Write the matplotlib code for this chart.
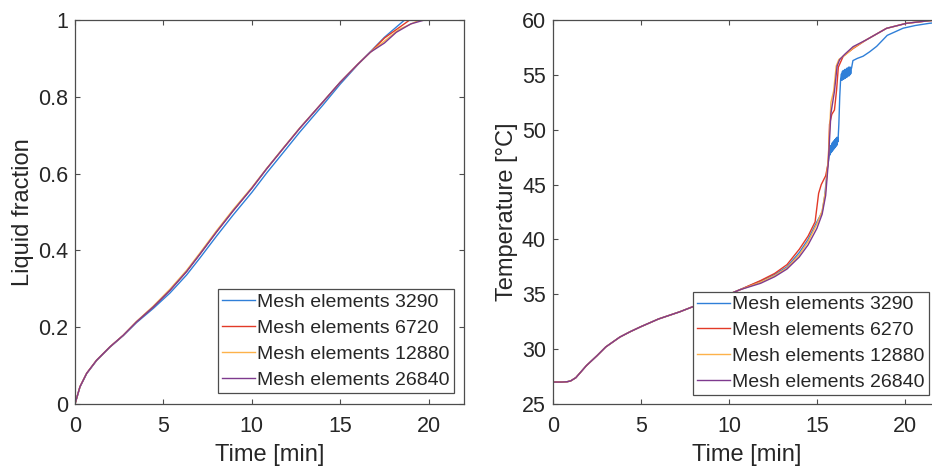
import numpy as np
import matplotlib
matplotlib.use("Agg")
import matplotlib.pyplot as plt

plt.rcParams.update({
    "font.family": ["Liberation Sans", "DejaVu Sans"],
    "axes.edgecolor": "#4d4d4d",
    "axes.linewidth": 0.9,
    "xtick.color": "#4d4d4d",
    "ytick.color": "#4d4d4d",
    "xtick.labelcolor": "#262626",
    "ytick.labelcolor": "#262626",
    "xtick.direction": "in",
    "ytick.direction": "in",
    "xtick.top": True,
    "ytick.right": True,
    "xtick.major.size": 3.5,
    "ytick.major.size": 3.5,
})

COLORS = ["#2f7fd8", "#e23a28", "#fdb24a", "#7e3a8e"]

# ---------------------------------------------------------------------------
# Liquid fraction data
# ---------------------------------------------------------------------------
t_lf_common = [0, 0.28, 0.66, 1.22, 1.98, 2.73, 3.48, 4.43, 5.37, 6.31, 7.06,
               8.0, 8.94, 10.0, 10.83, 11.8, 12.71, 14.03, 15.0, 16.0, 16.7]
lf_common = [0, 0.045, 0.08, 0.114, 0.149, 0.179, 0.214, 0.253, 0.296, 0.345,
             0.390, 0.448, 0.503, 0.562, 0.612, 0.667, 0.718, 0.787, 0.838,
             0.885, 0.916]

t_lf_3290 = t_lf_common + [17.5, 18.64, 22]
lf_3290 = [0, 0.044, 0.079, 0.113, 0.148, 0.178, 0.212, 0.249, 0.289, 0.336,
           0.380, 0.437, 0.492, 0.551, 0.601, 0.656, 0.708, 0.779, 0.833,
           0.884, 0.917, 0.955, 1.0, 1.0]

t_lf_6720 = t_lf_common + [17.5, 18.93, 22]
lf_6720 = lf_common + [0.953, 1.0, 1.0]

t_lf_12880 = t_lf_common + [17.5, 18.3, 19.5, 22]
lf_12880 = [0, 0.045, 0.08, 0.114, 0.149, 0.179, 0.215, 0.255, 0.299, 0.348,
            0.393, 0.451, 0.506, 0.564, 0.613, 0.668, 0.719, 0.787, 0.838,
            0.885, 0.916, 0.945, 0.975, 1.0, 1.0]

t_lf_26840 = t_lf_common + [17.5, 18.17, 19.0, 19.77, 22]
lf_26840 = lf_common + [0.94, 0.968, 0.99, 1.0, 1.0]

# ---------------------------------------------------------------------------
# Temperature data
# ---------------------------------------------------------------------------
t_T_common = [0, 0.5, 0.8, 1.0, 1.3, 1.9, 2.5, 3.0, 3.8, 4.4, 5.0, 6.0, 7.2,
              8.0, 9.0, 10.0, 10.6]
T_common = [27.0, 27.0, 27.03, 27.1, 27.4, 28.5, 29.4, 30.2, 31.1, 31.6, 32.05,
            32.75, 33.4, 33.9, 34.45, 35.0, 35.4]

# coarse mesh: noisy plateaus near 48.5 and 55 degC
t_T_3290 = t_T_common + [
    11.8, 12.6, 13.3, 14.0, 14.5, 15.0, 15.3, 15.45, 15.6, 15.7,
    15.725, 15.75, 15.775, 15.8, 15.825, 15.85, 15.875, 15.9, 15.925, 15.95,
    15.975, 16.0, 16.025, 16.05, 16.075, 16.1, 16.125, 16.15, 16.175, 16.2,
    16.25, 16.3, 16.35, 16.4,
    16.425, 16.45, 16.475, 16.5, 16.525, 16.55, 16.575, 16.6, 16.625, 16.65,
    16.675, 16.7, 16.725, 16.75, 16.775, 16.8, 16.825, 16.85, 16.875, 16.9,
    16.925, 16.95, 16.97, 17.05, 17.3, 17.63, 18.0, 18.4, 19.0, 19.9, 20.6,
    21.4, 22.0]
T_3290 = T_common + [
    36.2, 36.8, 37.5, 38.8, 40.0, 41.6, 42.5, 44.0, 46.5, 47.6,
    48.3, 47.7, 48.5, 47.9, 48.6, 48.0, 48.8, 48.1, 48.9, 48.2,
    49.0, 48.3, 49.1, 48.4, 49.2, 48.5, 49.3, 48.6, 49.3, 48.9,
    50.5, 53.0, 54.6, 55.1,
    54.5, 55.3, 54.6, 55.4, 54.6, 55.4, 54.7, 55.5, 54.7, 55.5,
    54.8, 55.6, 54.8, 55.6, 54.9, 55.7, 54.9, 55.7, 55.0, 55.7,
    55.1, 55.6, 55.6, 56.3, 56.5, 56.7, 57.1, 57.6, 58.6, 59.25, 59.5,
    59.7, 59.8]

t_T_6270 = t_T_common + [11.8, 12.6, 13.3, 14.0, 14.5, 14.9, 15.1, 15.25, 15.5,
                         15.65, 15.72, 15.85, 16.0, 16.12, 16.22, 16.5, 17.06,
                         17.82, 18.96, 20.1, 21.4, 22.0]
T_6270 = T_common + [36.25, 36.9, 37.7, 39.1, 40.3, 41.6, 44.2, 45.0, 45.8,
                     47.0, 50.5, 51.4, 51.8, 53.6, 55.7, 56.7, 57.4,
                     58.2, 59.24, 59.7, 59.94, 60.0]

t_T_12880 = t_T_common + [11.8, 12.6, 13.3, 14.0, 14.5, 15.0, 15.3, 15.5, 15.65,
                          15.8, 15.95, 16.1, 16.25, 16.6, 17.1, 17.82, 18.96,
                          20.1, 21.4, 22.0]
T_12880 = T_common + [36.1, 36.7, 37.4, 38.6, 39.8, 41.4, 42.6, 44.5, 47.5,
                      52.5, 53.5, 55.8, 56.4, 56.8, 57.5, 58.2, 59.24,
                      59.7, 59.94, 60.0]

t_T_26840 = t_T_common + [11.8, 12.6, 13.3, 14.0, 14.5, 15.0, 15.3, 15.5, 15.65,
                          15.8, 16.0, 16.15, 16.3, 16.6, 17.06, 17.82, 18.96,
                          20.1, 21.4, 22.0]
T_26840 = T_common + [36.0, 36.6, 37.3, 38.4, 39.5, 41.0, 42.3, 44.0, 47.0,
                      51.5, 53.5, 55.8, 56.4, 56.9, 57.57, 58.2, 59.24,
                      59.7, 59.94, 60.0]

labels_lf = ["Mesh elements 3290", "Mesh elements 6720",
             "Mesh elements 12880", "Mesh elements 26840"]
labels_T = ["Mesh elements 3290", "Mesh elements 6270",
            "Mesh elements 12880", "Mesh elements 26840"]

fig = plt.figure(figsize=(9.32, 4.66), dpi=100)
ax1 = fig.add_axes([75 / 932, 62 / 466, 389 / 932, 384 / 466])
ax2 = fig.add_axes([553 / 932, 62 / 466, 387 / 932, 384 / 466])

lf_series = [(t_lf_3290, lf_3290), (t_lf_6720, lf_6720),
             (t_lf_12880, lf_12880), (t_lf_26840, lf_26840)]
T_series = [(t_T_3290, T_3290), (t_T_6270, T_6270),
            (t_T_12880, T_12880), (t_T_26840, T_26840)]

for (x, y), c, lab in zip(lf_series, COLORS, labels_lf):
    ax1.plot(x, y, color=c, lw=1.0, label=lab)
for (x, y), c, lab in zip(T_series, COLORS, labels_T):
    ax2.plot(x, y, color=c, lw=1.0, label=lab)

ax1.set_xlim(0, 22)
ax1.set_ylim(0, 1)
ax1.set_xticks([0, 5, 10, 15, 20])
ax1.set_yticks([0, 0.2, 0.4, 0.6, 0.8, 1])
ax1.set_yticklabels(["0", "0.2", "0.4", "0.6", "0.8", "1"])
ax1.set_ylabel("Liquid fraction", fontsize=17, color="#262626", labelpad=3)
ax1.set_xlabel("Time [min]", fontsize=17, color="#262626", labelpad=5)

ax2.set_xlim(0, 22)
ax2.set_ylim(25, 60)
ax2.set_xticks([0, 5, 10, 15, 20])
ax2.set_yticks([25, 30, 35, 40, 45, 50, 55, 60])
ax2.set_ylabel("Temperature [°C]", fontsize=17, color="#262626", labelpad=3)
ax2.set_xlabel("Time [min]", fontsize=17, color="#262626", labelpad=5)

for ax, anchor in [(ax1, (0.974, 0.029)), (ax2, (0.9716, 0.0234))]:
    ax.tick_params(axis="x", labelsize=15.5, pad=9)
    ax.tick_params(axis="y", labelsize=15.5, pad=5)
    leg = ax.legend(loc="lower right", bbox_to_anchor=anchor, borderaxespad=0,
                    fontsize=14, fancybox=False, framealpha=1,
                    edgecolor="#4d4d4d", handlelength=1.7, handletextpad=0.1,
                    labelspacing=0.42, borderpad=0.22)
    leg.get_frame().set_linewidth(0.9)
    for txt in leg.get_texts():
        txt.set_color("#262626")

fig.savefig("out.png", dpi=100)
